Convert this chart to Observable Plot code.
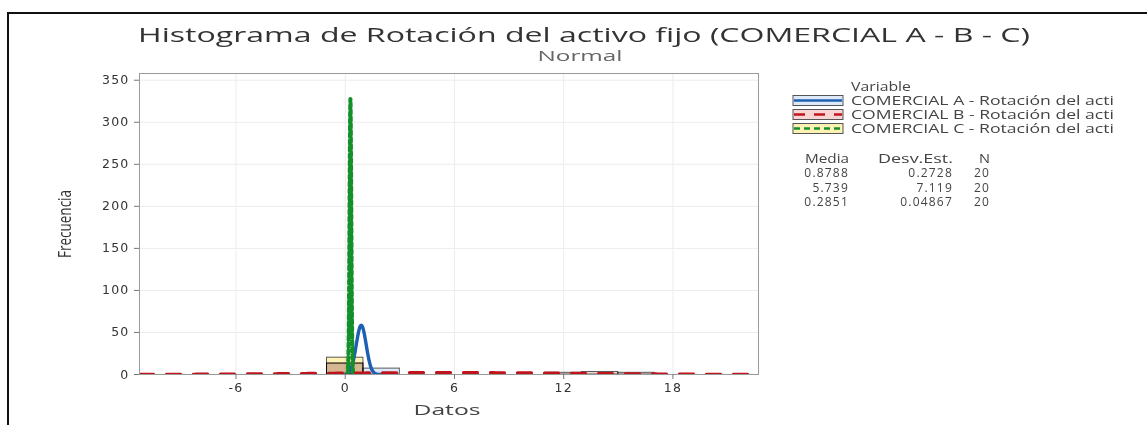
<!DOCTYPE html>
<html>
<head>
<meta charset="utf-8">
<script src="https://cdn.jsdelivr.net/npm/d3@7"></script>
<script src="https://cdn.jsdelivr.net/npm/@observablehq/plot@0.6"></script>
<style>
  html, body { margin: 0; padding: 0; background: #fff; }
  #wrap { position: relative; width: 1147px; height: 425px; overflow: hidden; }
  #frame { position: absolute; left: 7px; top: 12px; width: 1200px; height: 500px;
           border-left: 2px solid #111; border-top: 2px solid #111; box-sizing: border-box; }
  #plot, #over { position: absolute; left: 0; top: 0; }
  #over { pointer-events: none; }
</style>
</head>
<body>
<div id="wrap">
  <div id="frame"></div>
  <div id="plot"></div>
  <svg id="over" width="1147" height="425"></svg>
</div>
<script>
// ---- data ----
const series = ["COMERCIAL A - Rotación del acti", "COMERCIAL B - Rotación del acti", "COMERCIAL C - Rotación del acti"];
const media = [0.8788, 5.739, 0.2851];
const desvEst = [0.2728, 7.119, 0.04867];
const nObs = [20, 20, 20];
const mediaLabels = ["0.8788", "5.739", "0.2851"];
const desvLabels = ["0.2728", "7.119", "0.04867"];
const binLo = [-1, 1, 11, 13, 15];
const binWidth = 2;
const countsA = [13, 7, 0, 0, 0];
const countsB = [13, 0, 2, 3, 2];
const countsC = [20, 0, 0, 0, 0];
const xTicks = [-6, 0, 6, 12, 18];
const yTicks = [0, 50, 100, 150, 200, 250, 300, 350];
const xDomain = [-11.3, 22.7];
const yDomain = [0, 358];

const fills = ["#dde9f8", "#f9d4d4", "#fdf2b4"];
const strokes = ["#1d5fb2", "#bf141c", "#14902a"];
const dashes = [null, "14,13", "4,3"];
const widths = [3.4, 3.2, 4];

function bins(counts) {
  return binLo.map((lo, i) => ({x1: lo, x2: lo + binWidth, y: counts[i]})).filter(d => d.y > 0);
}
// fitted normal curve (scaled to counts) from the legend's Media / Desv.Est.
const xs = d3.range(xDomain[0], xDomain[1] + 0.002, 0.004);
function curve(k, span) {
  const m = media[k], s = desvEst[k], n = nObs[k];
  return xs.filter(x => span == null || Math.abs(x - m) <= span * s)
    .map(x => ({x, y: n * binWidth * Math.exp(-0.5 * ((x - m) / s) ** 2) / (s * Math.sqrt(2 * Math.PI))}));
}

const allCounts = [countsA, countsB, countsC];
const curveSpan = [4, null, 4.5];

const chart = Plot.plot({
  width: 780, height: 425,
  marginLeft: 139, marginRight: 22, marginTop: 73, marginBottom: 51,
  x: {domain: xDomain},
  y: {domain: yDomain},
  style: {fontFamily: "DejaVu Sans", fontSize: "12.5px", letterSpacing: "1.2px", color: "#333", background: "transparent"},
  marks: [
    Plot.gridX(xTicks, {stroke: "#ececec", strokeOpacity: 1}),
    Plot.gridY(yTicks.slice(1), {stroke: "#ececec", strokeOpacity: 1}),
    ...allCounts.map((c, k) => Plot.rect(bins(c), {x1: "x1", x2: "x2", y1: 0, y2: "y",
        fill: fills[k], stroke: "#5a5a5a", strokeWidth: 1, mixBlendMode: "multiply"})),
    Plot.ruleY([0], {stroke: "#666"}),
    ...[0, 2, 1].map(k => Plot.line(curve(k, curveSpan[k]), {x: "x", y: "y", stroke: strokes[k], strokeWidth: widths[k],
        strokeDasharray: dashes[k], clip: true})),
    Plot.frame({stroke: "#9a9a9a"}),
    Plot.axisX(xTicks, {tickSize: 5, tickPadding: 4, label: null, stroke: "#777", fill: "#333", tickFormat: d => String(d)}),
    Plot.axisY(yTicks, {tickSize: 5, tickPadding: 5, label: null, stroke: "#777", fill: "#333", tickFormat: d => String(d)})
  ]
});
document.getElementById("plot").appendChild(chart);

// ---- titles & legend ----
const svg = d3.select("#over");
const ff = "Open Sans";
function txt(x, y, s, opt = {}) {
  const t = svg.append("text").attr("x", x).attr("y", y).text(s)
    .attr("font-family", opt.ff || ff).attr("font-size", opt.size || 13)
    .attr("fill", opt.fill || "#333").attr("text-anchor", opt.anchor || "start");
  if (opt.len) t.attr("textLength", opt.len).attr("lengthAdjust", "spacingAndGlyphs");
  if (opt.ls) t.attr("letter-spacing", opt.ls);
  if (opt.transform) t.attr("transform", opt.transform);
  return t;
}
txt(584, 42, "Histograma de Rotación del activo fijo (COMERCIAL A - B - C)", {size: 20.5, anchor: "middle", fill: "#333", len: 892});
txt(580, 61, "Normal", {size: 15, anchor: "middle", fill: "#666", len: 85});
txt(447, 415, "Datos", {size: 14.5, anchor: "middle", fill: "#444", len: 67});
txt(0, 0, "Frecuencia", {size: 18, anchor: "middle", fill: "#333", len: 68, transform: "translate(71,224) rotate(-90)"});

txt(851, 91, "Variable", {size: 12.5, fill: "#444", len: 60});
const rowY = [105, 119, 133];
series.forEach((s, k) => {
  const cy = rowY[k] - 4.5;
  svg.append("rect").attr("x", 793).attr("y", cy - 5).attr("width", 50).attr("height", 10)
    .attr("fill", fills[k]).attr("stroke", "#555").attr("stroke-width", 1);
  svg.append("line").attr("x1", 794).attr("x2", 842).attr("y1", cy).attr("y2", cy)
    .attr("stroke", strokes[k]).attr("stroke-width", 2.5).attr("stroke-dasharray", k === 1 ? "11,9" : k === 2 ? "6,4" : null);
  txt(851, rowY[k], s, {size: 12.5, fill: "#444", len: 263});
});
const statY = [177, 192, 206];
txt(849, 163, "Media", {size: 12, anchor: "end", fill: "#444", len: 44});
txt(953, 163, "Desv.Est.", {size: 12, anchor: "end", fill: "#444", len: 75});
txt(990, 163, "N", {size: 12, anchor: "end", fill: "#444", len: 11});
[0, 1, 2].forEach(k => {
  txt(849, statY[k], mediaLabels[k], {size: 12, anchor: "end", fill: "#444", ls: 1.2});
  txt(953, statY[k], desvLabels[k], {size: 12, anchor: "end", fill: "#444", ls: 1.2});
  txt(990, statY[k], String(nObs[k]), {size: 12, anchor: "end", fill: "#444", ls: 1.2});
});
</script>
</body>
</html>
